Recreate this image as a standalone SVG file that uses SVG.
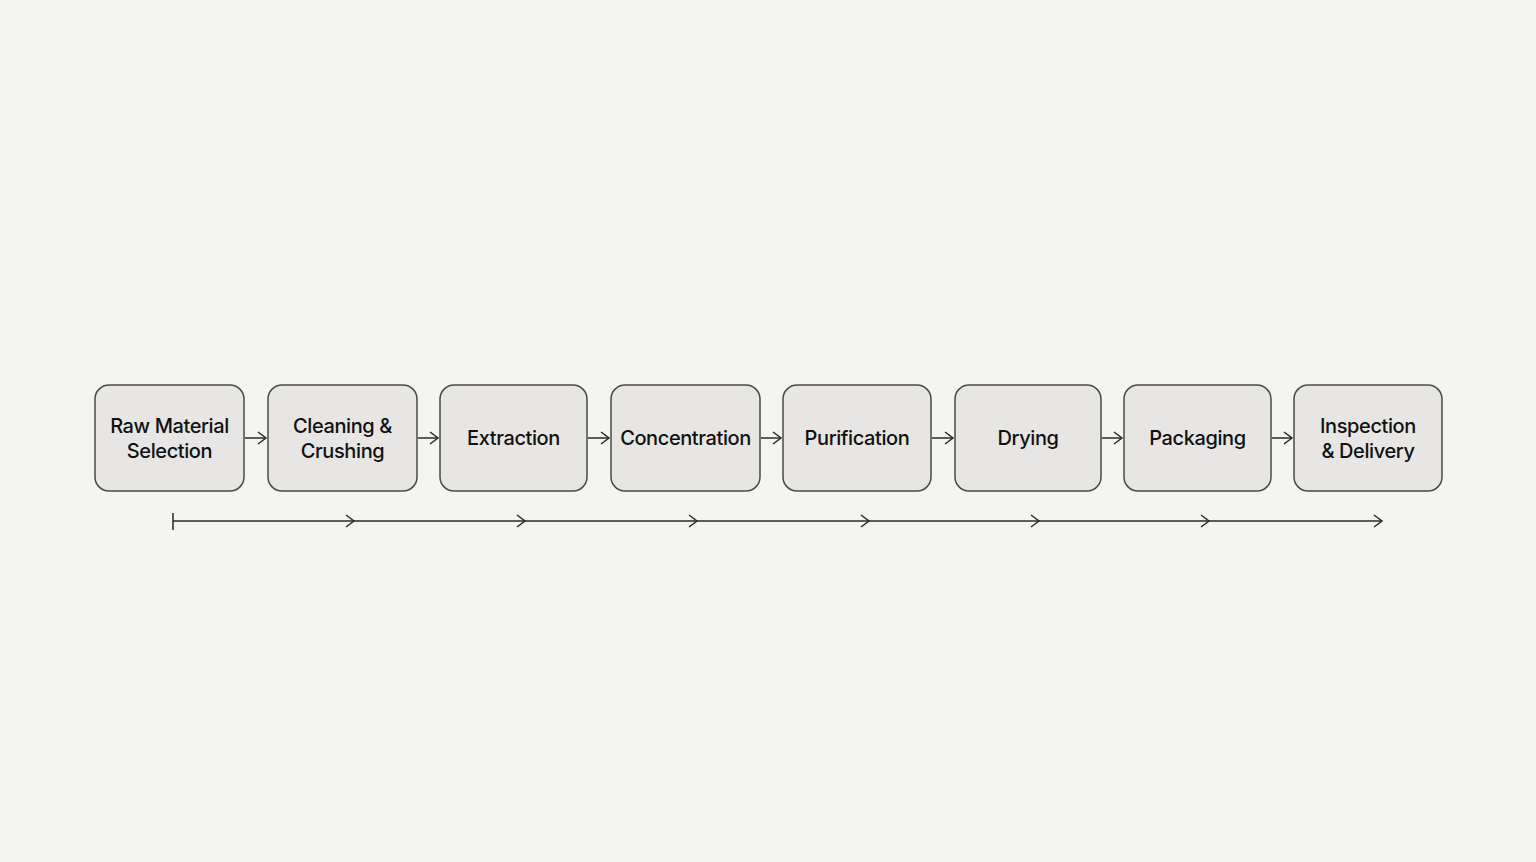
<svg xmlns="http://www.w3.org/2000/svg" width="1536" height="862" viewBox="0 0 1536 862">
<style>
.n rect{fill:#e7e6e4;stroke:#4a4a4a;stroke-width:1.5}
.n text{font-family:Inter,"Liberation Sans",sans-serif;font-size:20px;font-weight:500;letter-spacing:-0.4px;fill:#111;text-anchor:middle}
.c path{fill:none;stroke:#2a2a2a;stroke-width:1.5}
</style>
<defs><marker id="a" markerWidth="12" markerHeight="14" refX="10" refY="7" orient="auto" markerUnits="userSpaceOnUse"><path d="M2,1 L10,7 L2,13" fill="none" stroke="#2a2a2a" stroke-width="1.5"/></marker></defs>
<rect width="1536" height="862" fill="#f4f4f1"/>
<g id="n1" class="n"><rect x="95" y="385" width="149" height="106" rx="14"/><text x="169.5" y="433">Raw Material</text><text x="169.5" y="458">Selection</text></g>
<g id="n2" class="n"><rect x="268" y="385" width="149" height="106" rx="14"/><text x="342.5" y="433">Cleaning &amp;</text><text x="342.5" y="458">Crushing</text></g>
<g id="n3" class="n"><rect x="440" y="385" width="147" height="106" rx="14"/><text x="513.5" y="445">Extraction</text></g>
<g id="n4" class="n"><rect x="611" y="385" width="149" height="106" rx="14"/><text x="685.5" y="445">Concentration</text></g>
<g id="n5" class="n"><rect x="783" y="385" width="148" height="106" rx="14"/><text x="857" y="445">Purification</text></g>
<g id="n6" class="n"><rect x="955" y="385" width="146" height="106" rx="14"/><text x="1028" y="445">Drying</text></g>
<g id="n7" class="n"><rect x="1124" y="385" width="147" height="106" rx="14"/><text x="1197.5" y="445">Packaging</text></g>
<g id="n8" class="n"><rect x="1294" y="385" width="148" height="106" rx="14"/><text x="1368" y="433">Inspection</text><text x="1368" y="458">&amp; Delivery</text></g>
<g id="connectors" class="c">
<path d="M245,438 H266" marker-end="url(#a)"/>
<path d="M418,438 H438" marker-end="url(#a)"/>
<path d="M588,438 H609" marker-end="url(#a)"/>
<path d="M761,438 H781" marker-end="url(#a)"/>
<path d="M932,438 H953" marker-end="url(#a)"/>
<path d="M1102,438 H1122" marker-end="url(#a)"/>
<path d="M1272,438 H1292" marker-end="url(#a)"/>
<path d="M173,513 V530"/>
<path d="M173,521 H354" marker-end="url(#a)"/>
<path d="M354,521 H525" marker-end="url(#a)"/>
<path d="M525,521 H697" marker-end="url(#a)"/>
<path d="M697,521 H869" marker-end="url(#a)"/>
<path d="M869,521 H1039" marker-end="url(#a)"/>
<path d="M1039,521 H1209" marker-end="url(#a)"/>
<path d="M1209,521 H1382" marker-end="url(#a)"/>
</g>
</svg>
